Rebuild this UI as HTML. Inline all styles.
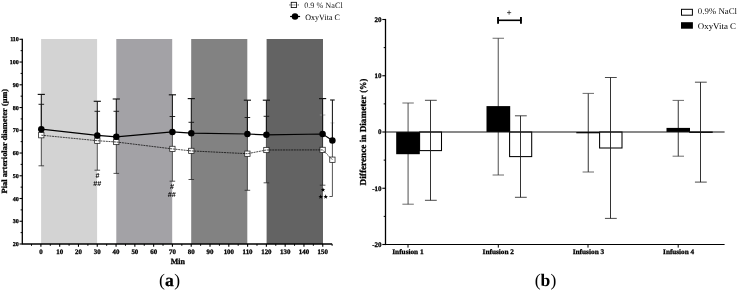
<!DOCTYPE html>
<html><head><meta charset="utf-8"><title>Figure</title>
<style>html,body{margin:0;padding:0;background:#fff;}svg{display:block;will-change:transform;}text{font-family:"Liberation Serif",serif;text-rendering:geometricPrecision;}.b{stroke:#000;stroke-width:0.28px;}</style>
</head><body>
<svg width="739" height="291" viewBox="0 0 739 291">
<rect x="0" y="0" width="739" height="291" fill="#ffffff"/>
<rect x="41.10" y="39.00" width="56.00" height="205.00" fill="#d3d3d3"/>
<rect x="116.30" y="39.00" width="55.90" height="205.00" fill="#a3a2a6"/>
<rect x="191.20" y="39.00" width="56.10" height="205.00" fill="#828282"/>
<rect x="266.60" y="39.00" width="56.40" height="205.00" fill="#636363"/>
<line x1="41.3" y1="104.3" x2="41.3" y2="165.8" stroke="#2a2a2a" stroke-width="0.8"/>
<line x1="38.5" y1="165.8" x2="44.099999999999994" y2="165.8" stroke="#2a2a2a" stroke-width="0.8"/>
<line x1="38.5" y1="104.3" x2="44.099999999999994" y2="104.3" stroke="#111" stroke-width="0.9"/>
<line x1="97.3" y1="111.3" x2="97.3" y2="170.2" stroke="#2a2a2a" stroke-width="0.8"/>
<line x1="94.5" y1="170.2" x2="100.1" y2="170.2" stroke="#2a2a2a" stroke-width="0.8"/>
<line x1="94.5" y1="111.3" x2="100.1" y2="111.3" stroke="#111" stroke-width="0.9"/>
<line x1="116.3" y1="111.3" x2="116.3" y2="173.4" stroke="#2a2a2a" stroke-width="0.8"/>
<line x1="113.5" y1="173.4" x2="119.1" y2="173.4" stroke="#2a2a2a" stroke-width="0.8"/>
<line x1="113.5" y1="111.3" x2="119.1" y2="111.3" stroke="#111" stroke-width="0.9"/>
<line x1="172.4" y1="116.5" x2="172.4" y2="181.2" stroke="#2a2a2a" stroke-width="0.8"/>
<line x1="169.6" y1="181.2" x2="175.20000000000002" y2="181.2" stroke="#2a2a2a" stroke-width="0.8"/>
<line x1="169.6" y1="116.5" x2="175.20000000000002" y2="116.5" stroke="#111" stroke-width="0.9"/>
<line x1="191.3" y1="122.3" x2="191.3" y2="179.5" stroke="#2a2a2a" stroke-width="0.8"/>
<line x1="188.5" y1="179.5" x2="194.10000000000002" y2="179.5" stroke="#2a2a2a" stroke-width="0.8"/>
<line x1="188.5" y1="122.3" x2="194.10000000000002" y2="122.3" stroke="#111" stroke-width="0.9"/>
<line x1="247.4" y1="117.5" x2="247.4" y2="190.3" stroke="#2a2a2a" stroke-width="0.8"/>
<line x1="244.6" y1="190.3" x2="250.20000000000002" y2="190.3" stroke="#2a2a2a" stroke-width="0.8"/>
<line x1="244.6" y1="117.5" x2="250.20000000000002" y2="117.5" stroke="#111" stroke-width="0.9"/>
<line x1="266.4" y1="116.3" x2="266.4" y2="182.8" stroke="#2a2a2a" stroke-width="0.8"/>
<line x1="263.59999999999997" y1="182.8" x2="269.2" y2="182.8" stroke="#2a2a2a" stroke-width="0.8"/>
<line x1="263.59999999999997" y1="116.3" x2="269.2" y2="116.3" stroke="#111" stroke-width="0.9"/>
<line x1="322.6" y1="115.0" x2="322.6" y2="185.2" stroke="#2a2a2a" stroke-width="0.8"/>
<line x1="319.8" y1="185.2" x2="325.40000000000003" y2="185.2" stroke="#2a2a2a" stroke-width="0.8"/>
<line x1="319.8" y1="115.0" x2="325.40000000000003" y2="115.0" stroke="#999" stroke-width="0.8"/>
<line x1="332.4" y1="122.9" x2="332.4" y2="196.5" stroke="#2a2a2a" stroke-width="0.8"/>
<line x1="329.4" y1="196.5" x2="332.4" y2="196.5" stroke="#2a2a2a" stroke-width="0.8"/>
<line x1="330.4" y1="122.9" x2="334.4" y2="122.9" stroke="#bbb" stroke-width="0.8"/>
<line x1="41.3" y1="94.4" x2="41.3" y2="129.2" stroke="#151515" stroke-width="1.05"/>
<line x1="37.699999999999996" y1="94.4" x2="44.9" y2="94.4" stroke="#151515" stroke-width="1.15"/>
<line x1="97.3" y1="101.3" x2="97.3" y2="135.4" stroke="#151515" stroke-width="1.05"/>
<line x1="93.7" y1="101.3" x2="100.89999999999999" y2="101.3" stroke="#151515" stroke-width="1.15"/>
<line x1="116.3" y1="99.0" x2="116.3" y2="136.8" stroke="#151515" stroke-width="1.05"/>
<line x1="112.7" y1="99.0" x2="119.89999999999999" y2="99.0" stroke="#151515" stroke-width="1.15"/>
<line x1="172.4" y1="94.8" x2="172.4" y2="131.9" stroke="#151515" stroke-width="1.05"/>
<line x1="168.8" y1="94.8" x2="176.0" y2="94.8" stroke="#151515" stroke-width="1.15"/>
<line x1="191.3" y1="98.6" x2="191.3" y2="133.2" stroke="#151515" stroke-width="1.05"/>
<line x1="187.70000000000002" y1="98.6" x2="194.9" y2="98.6" stroke="#151515" stroke-width="1.15"/>
<line x1="247.4" y1="100.2" x2="247.4" y2="134.0" stroke="#151515" stroke-width="1.05"/>
<line x1="243.8" y1="100.2" x2="251.0" y2="100.2" stroke="#151515" stroke-width="1.15"/>
<line x1="266.4" y1="100.2" x2="266.4" y2="134.8" stroke="#151515" stroke-width="1.05"/>
<line x1="262.79999999999995" y1="100.2" x2="270.0" y2="100.2" stroke="#151515" stroke-width="1.15"/>
<line x1="322.6" y1="98.6" x2="322.6" y2="134.0" stroke="#151515" stroke-width="1.05"/>
<line x1="319.0" y1="98.6" x2="326.20000000000005" y2="98.6" stroke="#151515" stroke-width="1.15"/>
<line x1="332.4" y1="100.0" x2="332.4" y2="140.5" stroke="#151515" stroke-width="1.05"/>
<line x1="330.09999999999997" y1="100.0" x2="334.7" y2="100.0" stroke="#151515" stroke-width="1.15"/>
<rect x="38.65" y="132.54999999999998" width="5.3" height="5.3" fill="#fff" stroke="#1a1a1a" stroke-width="0.75"/>
<rect x="94.64999999999999" y="138.04999999999998" width="5.3" height="5.3" fill="#fff" stroke="#1a1a1a" stroke-width="0.75"/>
<rect x="113.64999999999999" y="139.35" width="5.3" height="5.3" fill="#fff" stroke="#1a1a1a" stroke-width="0.75"/>
<rect x="169.75" y="146.25" width="5.3" height="5.3" fill="#fff" stroke="#1a1a1a" stroke-width="0.75"/>
<rect x="188.65" y="148.25" width="5.3" height="5.3" fill="#fff" stroke="#1a1a1a" stroke-width="0.75"/>
<rect x="244.75" y="151.04999999999998" width="5.3" height="5.3" fill="#fff" stroke="#1a1a1a" stroke-width="0.75"/>
<rect x="263.75" y="147.35" width="5.3" height="5.3" fill="#fff" stroke="#1a1a1a" stroke-width="0.75"/>
<rect x="319.95000000000005" y="147.25" width="5.3" height="5.3" fill="#fff" stroke="#1a1a1a" stroke-width="0.75"/>
<rect x="329.75" y="157.04999999999998" width="5.3" height="5.3" fill="#fff" stroke="#1a1a1a" stroke-width="0.75"/>
<polyline points="41.3,135.2 97.3,140.7 116.3,142.0 172.4,148.9 191.3,150.9 247.4,153.7 266.4,150.0 322.6,149.9 332.4,159.7" fill="none" stroke="#000" stroke-width="0.7" stroke-dasharray="2.0,0.7"/>
<polyline points="41.3,129.2 97.3,135.4 116.3,136.8 172.4,131.9 191.3,133.2 247.4,134.0 266.4,134.8 322.6,134.0 332.4,140.5" fill="none" stroke="#000" stroke-width="1.2"/>
<circle cx="41.3" cy="129.2" r="3.25" fill="#000"/>
<circle cx="97.3" cy="135.4" r="3.25" fill="#000"/>
<circle cx="116.3" cy="136.8" r="3.25" fill="#000"/>
<circle cx="172.4" cy="131.9" r="3.25" fill="#000"/>
<circle cx="191.3" cy="133.2" r="3.25" fill="#000"/>
<circle cx="247.4" cy="134.0" r="3.25" fill="#000"/>
<circle cx="266.4" cy="134.8" r="3.25" fill="#000"/>
<circle cx="322.6" cy="134.0" r="3.25" fill="#000"/>
<circle cx="332.4" cy="140.5" r="3.25" fill="#000"/>
<line x1="22.3" y1="38.699999999999996" x2="22.3" y2="244.6" stroke="#000" stroke-width="1.3"/>
<line x1="22.3" y1="244.0" x2="332.14" y2="244.0" stroke="#000" stroke-width="1.3"/>
<line x1="19.5" y1="244.00" x2="22.3" y2="244.00" stroke="#000" stroke-width="1.1"/>
<text x="18.8" y="246.05" font-size="6.0" font-weight="bold" class="b" text-anchor="end">20</text>
<line x1="20.6" y1="232.63" x2="22.3" y2="232.63" stroke="#000" stroke-width="1.0"/>
<line x1="19.5" y1="221.26" x2="22.3" y2="221.26" stroke="#000" stroke-width="1.1"/>
<text x="18.8" y="223.31" font-size="6.0" font-weight="bold" class="b" text-anchor="end">30</text>
<line x1="20.6" y1="209.88" x2="22.3" y2="209.88" stroke="#000" stroke-width="1.0"/>
<line x1="19.5" y1="198.51" x2="22.3" y2="198.51" stroke="#000" stroke-width="1.1"/>
<text x="18.8" y="200.56" font-size="6.0" font-weight="bold" class="b" text-anchor="end">40</text>
<line x1="20.6" y1="187.14" x2="22.3" y2="187.14" stroke="#000" stroke-width="1.0"/>
<line x1="19.5" y1="175.77" x2="22.3" y2="175.77" stroke="#000" stroke-width="1.1"/>
<text x="18.8" y="177.82" font-size="6.0" font-weight="bold" class="b" text-anchor="end">50</text>
<line x1="20.6" y1="164.39" x2="22.3" y2="164.39" stroke="#000" stroke-width="1.0"/>
<line x1="19.5" y1="153.02" x2="22.3" y2="153.02" stroke="#000" stroke-width="1.1"/>
<text x="18.8" y="155.07" font-size="6.0" font-weight="bold" class="b" text-anchor="end">60</text>
<line x1="20.6" y1="141.65" x2="22.3" y2="141.65" stroke="#000" stroke-width="1.0"/>
<line x1="19.5" y1="130.28" x2="22.3" y2="130.28" stroke="#000" stroke-width="1.1"/>
<text x="18.8" y="132.33" font-size="6.0" font-weight="bold" class="b" text-anchor="end">70</text>
<line x1="20.6" y1="118.91" x2="22.3" y2="118.91" stroke="#000" stroke-width="1.0"/>
<line x1="19.5" y1="107.53" x2="22.3" y2="107.53" stroke="#000" stroke-width="1.1"/>
<text x="18.8" y="109.58" font-size="6.0" font-weight="bold" class="b" text-anchor="end">80</text>
<line x1="20.6" y1="96.16" x2="22.3" y2="96.16" stroke="#000" stroke-width="1.0"/>
<line x1="19.5" y1="84.79" x2="22.3" y2="84.79" stroke="#000" stroke-width="1.1"/>
<text x="18.8" y="86.84" font-size="6.0" font-weight="bold" class="b" text-anchor="end">90</text>
<line x1="20.6" y1="73.42" x2="22.3" y2="73.42" stroke="#000" stroke-width="1.0"/>
<line x1="19.5" y1="62.04" x2="22.3" y2="62.04" stroke="#000" stroke-width="1.1"/>
<text x="18.8" y="64.09" font-size="6.0" font-weight="bold" class="b" text-anchor="end">100</text>
<line x1="20.6" y1="50.67" x2="22.3" y2="50.67" stroke="#000" stroke-width="1.0"/>
<line x1="19.5" y1="39.30" x2="22.3" y2="39.30" stroke="#000" stroke-width="1.1"/>
<text x="18.8" y="41.35" font-size="6.0" font-weight="bold" class="b" text-anchor="end">110</text>
<line x1="31.50" y1="244.0" x2="31.50" y2="245.8" stroke="#000" stroke-width="1.0"/>
<line x1="40.90" y1="244.0" x2="40.90" y2="246.8" stroke="#000" stroke-width="1.1"/>
<text x="40.90" y="253.90" font-size="6.9" font-weight="bold" class="b" text-anchor="middle">0</text>
<line x1="50.30" y1="244.0" x2="50.30" y2="245.8" stroke="#000" stroke-width="1.0"/>
<line x1="59.69" y1="244.0" x2="59.69" y2="246.8" stroke="#000" stroke-width="1.1"/>
<text x="59.69" y="253.90" font-size="6.9" font-weight="bold" class="b" text-anchor="middle">10</text>
<line x1="69.08" y1="244.0" x2="69.08" y2="245.8" stroke="#000" stroke-width="1.0"/>
<line x1="78.48" y1="244.0" x2="78.48" y2="246.8" stroke="#000" stroke-width="1.1"/>
<text x="78.48" y="253.90" font-size="6.9" font-weight="bold" class="b" text-anchor="middle">20</text>
<line x1="87.88" y1="244.0" x2="87.88" y2="245.8" stroke="#000" stroke-width="1.0"/>
<line x1="97.27" y1="244.0" x2="97.27" y2="246.8" stroke="#000" stroke-width="1.1"/>
<text x="97.27" y="253.90" font-size="6.9" font-weight="bold" class="b" text-anchor="middle">30</text>
<line x1="106.66" y1="244.0" x2="106.66" y2="245.8" stroke="#000" stroke-width="1.0"/>
<line x1="116.06" y1="244.0" x2="116.06" y2="246.8" stroke="#000" stroke-width="1.1"/>
<text x="116.06" y="253.90" font-size="6.9" font-weight="bold" class="b" text-anchor="middle">40</text>
<line x1="125.46" y1="244.0" x2="125.46" y2="245.8" stroke="#000" stroke-width="1.0"/>
<line x1="134.85" y1="244.0" x2="134.85" y2="246.8" stroke="#000" stroke-width="1.1"/>
<text x="134.85" y="253.90" font-size="6.9" font-weight="bold" class="b" text-anchor="middle">50</text>
<line x1="144.25" y1="244.0" x2="144.25" y2="245.8" stroke="#000" stroke-width="1.0"/>
<line x1="153.64" y1="244.0" x2="153.64" y2="246.8" stroke="#000" stroke-width="1.1"/>
<text x="153.64" y="253.90" font-size="6.9" font-weight="bold" class="b" text-anchor="middle">60</text>
<line x1="163.03" y1="244.0" x2="163.03" y2="245.8" stroke="#000" stroke-width="1.0"/>
<line x1="172.43" y1="244.0" x2="172.43" y2="246.8" stroke="#000" stroke-width="1.1"/>
<text x="172.43" y="253.90" font-size="6.9" font-weight="bold" class="b" text-anchor="middle">70</text>
<line x1="181.83" y1="244.0" x2="181.83" y2="245.8" stroke="#000" stroke-width="1.0"/>
<line x1="191.22" y1="244.0" x2="191.22" y2="246.8" stroke="#000" stroke-width="1.1"/>
<text x="191.22" y="253.90" font-size="6.9" font-weight="bold" class="b" text-anchor="middle">80</text>
<line x1="200.62" y1="244.0" x2="200.62" y2="245.8" stroke="#000" stroke-width="1.0"/>
<line x1="210.01" y1="244.0" x2="210.01" y2="246.8" stroke="#000" stroke-width="1.1"/>
<text x="210.01" y="253.90" font-size="6.9" font-weight="bold" class="b" text-anchor="middle">90</text>
<line x1="219.41" y1="244.0" x2="219.41" y2="245.8" stroke="#000" stroke-width="1.0"/>
<line x1="228.80" y1="244.0" x2="228.80" y2="246.8" stroke="#000" stroke-width="1.1"/>
<text x="228.80" y="253.90" font-size="6.9" font-weight="bold" class="b" text-anchor="middle">100</text>
<line x1="238.19" y1="244.0" x2="238.19" y2="245.8" stroke="#000" stroke-width="1.0"/>
<line x1="247.59" y1="244.0" x2="247.59" y2="246.8" stroke="#000" stroke-width="1.1"/>
<text x="247.59" y="253.90" font-size="6.9" font-weight="bold" class="b" text-anchor="middle">110</text>
<line x1="256.99" y1="244.0" x2="256.99" y2="245.8" stroke="#000" stroke-width="1.0"/>
<line x1="266.38" y1="244.0" x2="266.38" y2="246.8" stroke="#000" stroke-width="1.1"/>
<text x="266.38" y="253.90" font-size="6.9" font-weight="bold" class="b" text-anchor="middle">120</text>
<line x1="275.77" y1="244.0" x2="275.77" y2="245.8" stroke="#000" stroke-width="1.0"/>
<line x1="285.17" y1="244.0" x2="285.17" y2="246.8" stroke="#000" stroke-width="1.1"/>
<text x="285.17" y="253.90" font-size="6.9" font-weight="bold" class="b" text-anchor="middle">130</text>
<line x1="294.56" y1="244.0" x2="294.56" y2="245.8" stroke="#000" stroke-width="1.0"/>
<line x1="303.96" y1="244.0" x2="303.96" y2="246.8" stroke="#000" stroke-width="1.1"/>
<text x="303.96" y="253.90" font-size="6.9" font-weight="bold" class="b" text-anchor="middle">140</text>
<line x1="313.35" y1="244.0" x2="313.35" y2="245.8" stroke="#000" stroke-width="1.0"/>
<line x1="322.75" y1="244.0" x2="322.75" y2="246.8" stroke="#000" stroke-width="1.1"/>
<text x="322.75" y="253.90" font-size="6.9" font-weight="bold" class="b" text-anchor="middle">150</text>
<line x1="332.14" y1="244.0" x2="332.14" y2="245.8" stroke="#000" stroke-width="1.0"/>
<text x="177.9" y="264.4" font-size="8" font-weight="bold" class="b" text-anchor="middle" textLength="14.2" lengthAdjust="spacingAndGlyphs">Min</text>
<text transform="translate(6.6,193.4) rotate(-90)" font-size="8.0" font-weight="bold" class="b" textLength="85.1" lengthAdjust="spacingAndGlyphs">Pial arteriolar diameter</text>
<text transform="translate(6.6,105.9) rotate(-90)" font-size="8.0" font-weight="bold" class="b" textLength="16.9" lengthAdjust="spacingAndGlyphs">(µm)</text>
<text x="97.6" y="177.6" font-size="7.2" font-weight="bold" text-anchor="middle" style="font-family:'Liberation Sans',sans-serif">#</text>
<text x="97.2" y="185.8" font-size="7.2" font-weight="bold" text-anchor="middle" style="font-family:'Liberation Sans',sans-serif">##</text>
<text x="171.9" y="188.5" font-size="7.2" font-weight="bold" text-anchor="middle" style="font-family:'Liberation Sans',sans-serif">#</text>
<text x="171.8" y="197.2" font-size="7.2" font-weight="bold" text-anchor="middle" style="font-family:'Liberation Sans',sans-serif">##</text>
<polygon points="323.00,187.40 323.59,188.99 325.28,189.06 323.95,190.11 324.41,191.74 323.00,190.80 321.59,191.74 322.05,190.11 320.72,189.06 322.41,188.99" fill="#000"/>
<polygon points="320.70,194.30 321.29,195.89 322.98,195.96 321.65,197.01 322.11,198.64 320.70,197.70 319.29,198.64 319.75,197.01 318.42,195.96 320.11,195.89" fill="#000"/>
<polygon points="325.70,194.30 326.29,195.89 327.98,195.96 326.65,197.01 327.11,198.64 325.70,197.70 324.29,198.64 324.75,197.01 323.42,195.96 325.11,195.89" fill="#000"/>
<rect x="291.2" y="2.3" width="5.3" height="5.3" fill="#fff" stroke="#000" stroke-width="0.8"/>
<line x1="289.3" y1="4.95" x2="298.9" y2="4.95" stroke="#000" stroke-width="0.7" stroke-dasharray="1.2,0.9"/>
<text x="304.2" y="7.7" font-size="8.2" fill="#222" textLength="38.5" lengthAdjust="spacingAndGlyphs">0.9 % NaCl</text>
<line x1="290.1" y1="16.5" x2="300.1" y2="16.5" stroke="#000" stroke-width="1.2"/>
<circle cx="295.0" cy="16.6" r="3.25" fill="#000"/>
<text x="305.3" y="19.6" font-size="8.2" fill="#000" textLength="34.5" lengthAdjust="spacingAndGlyphs">OxyVita C</text>
<text x="169.6" y="285.9" font-size="17.6" text-anchor="middle">(<tspan font-weight="bold" stroke="#000" stroke-width="0.25">a</tspan><tspan dx="0.5">)</tspan></text>
<line x1="408.1" y1="103.0" x2="408.1" y2="204.2" stroke="#777" stroke-width="1.3"/>
<line x1="402.40000000000003" y1="103.0" x2="413.8" y2="103.0" stroke="#3c3c3c" stroke-width="0.75"/>
<line x1="402.40000000000003" y1="204.2" x2="413.8" y2="204.2" stroke="#3c3c3c" stroke-width="0.75"/>
<rect x="419.6" y="132.00" width="21.90" height="18.60" fill="#fff" stroke="#000" stroke-width="1.05"/>
<rect x="396.2" y="132.00" width="23.60" height="22.20" fill="#000"/>
<line x1="430.5" y1="100.3" x2="430.5" y2="200.3" stroke="#1c1c1c" stroke-width="0.9"/>
<line x1="424.95000000000005" y1="100.3" x2="436.75" y2="100.3" stroke="#1c1c1c" stroke-width="0.8"/>
<line x1="424.95000000000005" y1="200.3" x2="436.75" y2="200.3" stroke="#1c1c1c" stroke-width="0.8"/>
<line x1="498.3" y1="38.25" x2="498.3" y2="175.0" stroke="#777" stroke-width="1.3"/>
<line x1="492.6" y1="38.25" x2="504.0" y2="38.25" stroke="#3c3c3c" stroke-width="0.75"/>
<line x1="492.6" y1="175.0" x2="504.0" y2="175.0" stroke="#3c3c3c" stroke-width="0.75"/>
<rect x="509.6" y="132.00" width="22.10" height="24.60" fill="#fff" stroke="#000" stroke-width="1.05"/>
<rect x="486.5" y="106.10" width="23.70" height="25.90" fill="#000"/>
<line x1="520.5" y1="115.8" x2="520.5" y2="197.3" stroke="#1c1c1c" stroke-width="0.9"/>
<line x1="514.95" y1="115.8" x2="526.75" y2="115.8" stroke="#1c1c1c" stroke-width="0.8"/>
<line x1="514.95" y1="197.3" x2="526.75" y2="197.3" stroke="#1c1c1c" stroke-width="0.8"/>
<line x1="588.3" y1="93.4" x2="588.3" y2="172.0" stroke="#555" stroke-width="1.2"/>
<line x1="582.5999999999999" y1="93.4" x2="594.0" y2="93.4" stroke="#3c3c3c" stroke-width="0.75"/>
<line x1="582.5999999999999" y1="172.0" x2="594.0" y2="172.0" stroke="#3c3c3c" stroke-width="0.75"/>
<rect x="599.6" y="132.00" width="22.40" height="16.00" fill="#fff" stroke="#000" stroke-width="1.05"/>
<rect x="576.3" y="132.00" width="23.50" height="1.30" fill="#000"/>
<line x1="610.5" y1="77.5" x2="610.5" y2="218.4" stroke="#1c1c1c" stroke-width="0.9"/>
<line x1="604.95" y1="77.5" x2="616.75" y2="77.5" stroke="#1c1c1c" stroke-width="0.8"/>
<line x1="604.95" y1="218.4" x2="616.75" y2="218.4" stroke="#1c1c1c" stroke-width="0.8"/>
<line x1="678.3" y1="100.4" x2="678.3" y2="156.2" stroke="#555" stroke-width="1.2"/>
<line x1="672.5999999999999" y1="100.4" x2="684.0" y2="100.4" stroke="#3c3c3c" stroke-width="0.75"/>
<line x1="672.5999999999999" y1="156.2" x2="684.0" y2="156.2" stroke="#3c3c3c" stroke-width="0.75"/>
<rect x="689.8" y="132.00" width="22.40" height="0.40" fill="#fff" stroke="#000" stroke-width="1.05"/>
<rect x="666.5" y="127.90" width="23.50" height="4.10" fill="#000"/>
<line x1="700.5" y1="82.2" x2="700.5" y2="182.1" stroke="#1c1c1c" stroke-width="0.9"/>
<line x1="694.95" y1="82.2" x2="706.75" y2="82.2" stroke="#1c1c1c" stroke-width="0.8"/>
<line x1="694.95" y1="182.1" x2="706.75" y2="182.1" stroke="#1c1c1c" stroke-width="0.8"/>
<line x1="385.5" y1="132.00" x2="724.6" y2="132.00" stroke="#151515" stroke-width="1.15"/>
<line x1="385.5" y1="18.9" x2="385.5" y2="245.1" stroke="#000" stroke-width="1.3"/>
<line x1="385.5" y1="244.5" x2="724.6" y2="244.5" stroke="#000" stroke-width="1.2"/>
<line x1="382.3" y1="244.50" x2="385.5" y2="244.50" stroke="#000" stroke-width="1.1"/>
<text x="381.5" y="246.95" font-size="7.0" font-weight="bold" class="b" text-anchor="end">-20</text>
<line x1="383.7" y1="216.38" x2="385.5" y2="216.38" stroke="#000" stroke-width="1.0"/>
<line x1="382.3" y1="188.25" x2="385.5" y2="188.25" stroke="#000" stroke-width="1.1"/>
<text x="381.5" y="190.70" font-size="7.0" font-weight="bold" class="b" text-anchor="end">-10</text>
<line x1="383.7" y1="160.12" x2="385.5" y2="160.12" stroke="#000" stroke-width="1.0"/>
<line x1="382.3" y1="132.00" x2="385.5" y2="132.00" stroke="#000" stroke-width="1.1"/>
<text x="381.5" y="134.45" font-size="7.0" font-weight="bold" class="b" text-anchor="end">0</text>
<line x1="383.7" y1="103.88" x2="385.5" y2="103.88" stroke="#000" stroke-width="1.0"/>
<line x1="382.3" y1="75.75" x2="385.5" y2="75.75" stroke="#000" stroke-width="1.1"/>
<text x="381.5" y="78.20" font-size="7.0" font-weight="bold" class="b" text-anchor="end">10</text>
<line x1="383.7" y1="47.62" x2="385.5" y2="47.62" stroke="#000" stroke-width="1.0"/>
<line x1="382.3" y1="19.50" x2="385.5" y2="19.50" stroke="#000" stroke-width="1.1"/>
<text x="381.5" y="21.95" font-size="7.0" font-weight="bold" class="b" text-anchor="end">20</text>
<line x1="408.0" y1="244.5" x2="408.0" y2="247.6" stroke="#000" stroke-width="1.0"/>
<text x="392.3" y="254.4" font-size="7.0" font-weight="bold" class="b" textLength="31.3" lengthAdjust="spacingAndGlyphs">Infusion 1</text>
<line x1="498.3" y1="244.5" x2="498.3" y2="247.6" stroke="#000" stroke-width="1.0"/>
<text x="482.6" y="254.4" font-size="7.0" font-weight="bold" class="b" textLength="31.4" lengthAdjust="spacingAndGlyphs">Infusion 2</text>
<line x1="588.0" y1="244.5" x2="588.0" y2="247.6" stroke="#000" stroke-width="1.0"/>
<text x="572.7" y="254.4" font-size="7.0" font-weight="bold" class="b" textLength="31.5" lengthAdjust="spacingAndGlyphs">Infusion 3</text>
<line x1="678.2" y1="244.5" x2="678.2" y2="247.6" stroke="#000" stroke-width="1.0"/>
<text x="663.1" y="254.4" font-size="7.0" font-weight="bold" class="b" textLength="31.0" lengthAdjust="spacingAndGlyphs">Infusion 4</text>
<text transform="translate(365.5,185.4) rotate(-90)" font-size="9.1" font-weight="bold" class="b" textLength="89.9" lengthAdjust="spacingAndGlyphs">Difference in Diameter</text>
<text transform="translate(365.5,92.8) rotate(-90)" font-size="9.1" font-weight="bold" class="b" textLength="14.0" lengthAdjust="spacingAndGlyphs">(%)</text>
<line x1="497.5" y1="20.3" x2="521.6" y2="20.3" stroke="#000" stroke-width="1.6"/>
<line x1="498.05" y1="17.0" x2="498.05" y2="23.8" stroke="#000" stroke-width="1.9"/>
<line x1="520.95" y1="17.0" x2="520.95" y2="23.8" stroke="#000" stroke-width="1.9"/>
<path d="M507.0 12.6H511.2M509.1 10.5V14.7" stroke="#111" stroke-width="0.7" fill="none"/>
<rect x="681.5" y="9.3" width="10.9" height="5.9" fill="#fff" stroke="#000" stroke-width="1.0"/>
<text x="697.8" y="14.3" font-size="8.8" fill="#111" textLength="39.2" lengthAdjust="spacingAndGlyphs">0.9% NaCl</text>
<rect x="681" y="22.2" width="11.9" height="6.5" fill="#000"/>
<text x="697.8" y="28.6" font-size="8.8" fill="#000" textLength="38.2" lengthAdjust="spacingAndGlyphs">OxyVita C</text>
<text x="545.5" y="286.2" font-size="17.6" text-anchor="middle">(<tspan font-weight="bold">b</tspan>)</text>
</svg></body></html>
